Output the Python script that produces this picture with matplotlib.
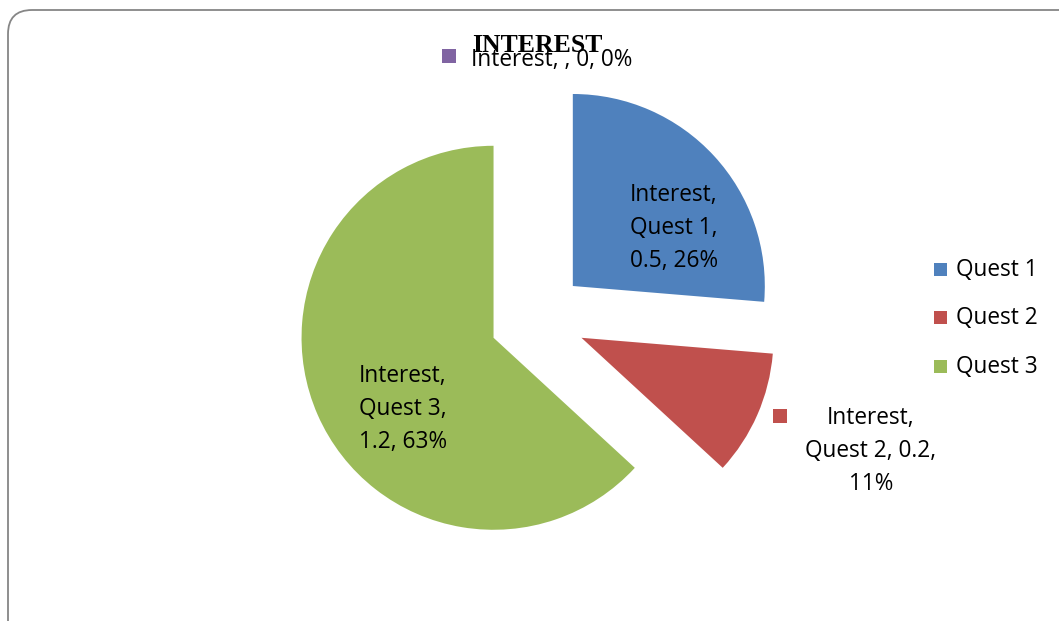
import matplotlib

matplotlib.use("Agg")
import matplotlib.pyplot as plt
from matplotlib.patches import FancyBboxPatch, Rectangle

# data
categories = ["Quest 1", "Quest 2", "Quest 3", ""]
values = [0.5, 0.2, 1.2, 0.0]
percents = ["26%", "11%", "63%", "0%"]
series_name = "Interest"
colors = ["#4F81BD", "#C0504D", "#9BBB59", "#8064A2"]

W, H = 1059, 621
plt.rcParams["font.family"] = ["Open Sans", "DejaVu Sans"]

fig = plt.figure(figsize=(W / 100, H / 100), dpi=100)

# background frame in pixel coordinates
bg = fig.add_axes([0, 0, 1, 1])
bg.set_xlim(0, W)
bg.set_ylim(H, 0)
bg.axis("off")
frame = FancyBboxPatch((8, 10), W + 40, H + 40,
                       boxstyle="round,pad=0,rounding_size=24",
                       facecolor="white", edgecolor="#868686", linewidth=1.3)
bg.add_patch(frame)

# pie: centre at (537.5, 318.5) px, radius 192 px
cx, cy, r = 537.5, 318.5, 192.0
half = 250.0
pax = fig.add_axes([(cx - half) / W, 1 - (cy + half) / H, 2 * half / W, 2 * half / H])
pax.pie(values, colors=colors, startangle=90, counterclock=False,
        explode=[0.25] * len(values), radius=1.0,
        wedgeprops=dict(linewidth=0))
pax.set_xlim(-half / r, half / r)
pax.set_ylim(-half / r, half / r)
pax.axis("off")

# overlay for texts, on top of the pie
ov = fig.add_axes([0, 0, 1, 1])
ov.set_xlim(0, W)
ov.set_ylim(H, 0)
ov.axis("off")
ov.patch.set_alpha(0)

fs = 16.3
ls = 1.48
# data labels
lab1 = f"{series_name},\n{categories[0]},\n{values[0]:g}, {percents[0]}"
ov.text(674, 228, lab1, ha="center", va="center", fontsize=fs, linespacing=ls)
lab3 = f"{series_name},\n{categories[2]},\n{values[2]:g}, {percents[2]}"
ov.text(403, 409, lab3, ha="center", va="center", fontsize=fs, linespacing=ls)
lab2 = f"{series_name},\n{categories[1]}, {values[1]:g},\n{percents[1]}"
ov.text(871, 451, lab2, ha="center", va="center", fontsize=fs, linespacing=ls)
ov.add_patch(Rectangle((773, 409), 14, 14, facecolor=colors[1], edgecolor="none"))
lab4 = f"{series_name}, {categories[3]}, {values[3]:g}, {percents[3]}"
ov.text(471, 60, lab4, ha="left", va="center", fontsize=fs)
ov.add_patch(Rectangle((442, 49), 14, 14, facecolor=colors[3], edgecolor="none"))

# title
ov.text(537, 46, "INTEREST", ha="center", va="center", fontsize=18.5,
        fontweight="bold", family="Liberation Serif")

# legend
for i, y in enumerate([270, 318, 367]):
    ov.add_patch(Rectangle((934, y - 7), 13, 13, facecolor=colors[i], edgecolor="none"))
    ov.text(956, y, categories[i], ha="left", va="center", fontsize=fs)

fig.savefig("out.png", dpi=100)
